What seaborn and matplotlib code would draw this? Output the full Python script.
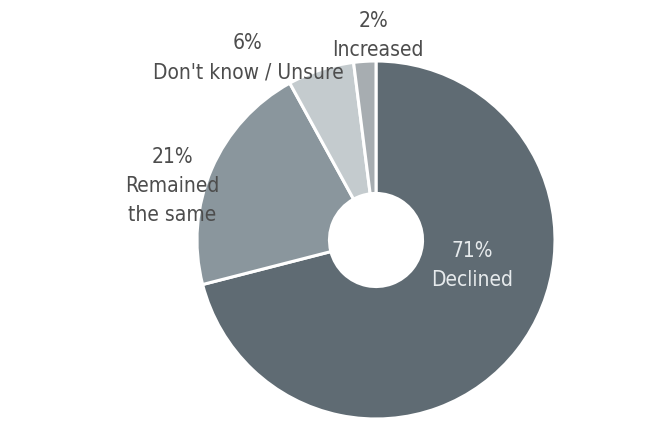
import matplotlib
matplotlib.use("Agg")
import matplotlib.pyplot as plt
import seaborn as sns

categories = ["Declined", "Remained\nthe same", "Don't know / Unsure", "Increased"]
values = [71, 21, 6, 2]
pct_labels = ["71%", "21%", "6%", "2%"]
colors = ["#5f6b73", "#8a969d", "#c4cbce", "#a7adb1"]

sns.set_theme(style="white")
plt.rcParams['font.family'] = ['DejaVu Sans']

fig = plt.figure(figsize=(6.70, 4.38), dpi=100)
ax = fig.add_axes([197/670, 19/438, 358/670, 358/438])
ax.pie(values, colors=colors, startangle=90, counterclock=False, radius=1,
       wedgeprops=dict(width=0.74, edgecolor="white", linewidth=2.2))
ax.set_xlim(-1, 1)
ax.set_ylim(-1, 1)
ax.set_aspect("equal")
ax.axis("off")

def px(x, y):
    return ((x - 376) / 179, (240 - y) / 179)

# label anchor points (pixel centres of the % line, then line step)
anchors = [(472, 251), (172, 157), (248, 43), (373, 21)]
cat_x = [472, 172, 248, 378]
tcol = ["#e6eaec", "#4d4d4d", "#4d4d4d", "#4d4d4d"]
step = 29
for (x, y), cx, p, c, col in zip(anchors, cat_x, pct_labels, categories, tcol):
    ax.text(*px(x, y), p, ha="center", va="center", fontsize=15,
            fontstretch="condensed", color=col, clip_on=False)
    for i, line in enumerate(c.split("\n")):
        ax.text(*px(cx, y + step * (i + 1)), line, ha="center", va="center",
                fontsize=15, fontstretch="condensed", color=col, clip_on=False)

fig.savefig("out.png", dpi=100)
